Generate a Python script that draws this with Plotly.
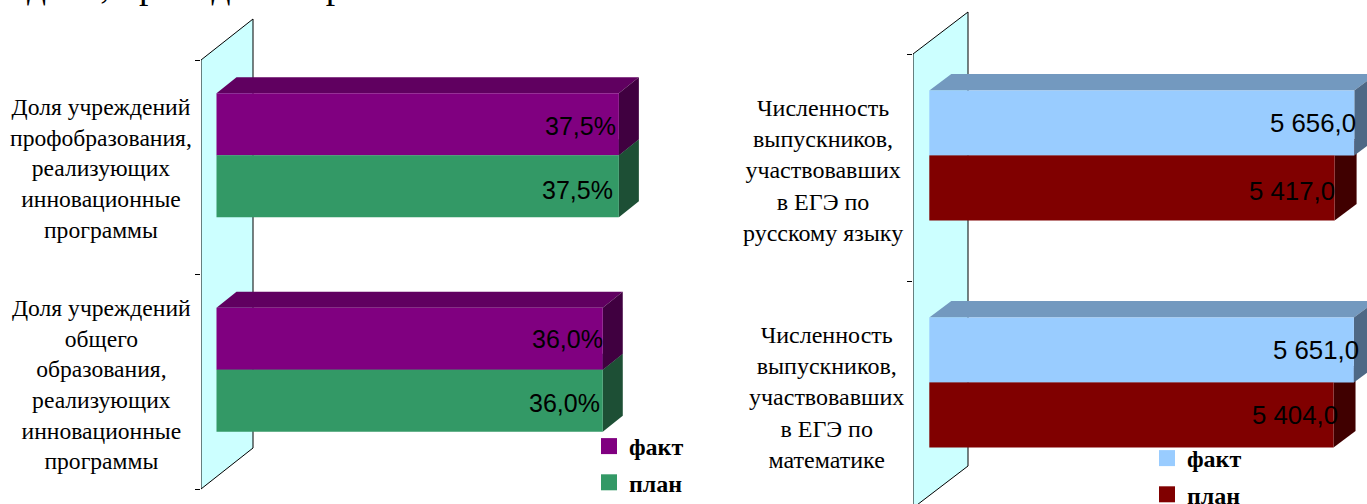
import plotly.graph_objects as go

W, H = 1367, 504

# ---------- data ----------
left_categories = [
    "Доля учреждений<br>профобразования,<br>реализующих<br>инновационные<br>программы",
    "Доля учреждений<br>общего<br>образования,<br>реализующих<br>инновационные<br>программы",
]
left_fact = [37.5, 36.0]
left_plan = [37.5, 36.0]
left_fact_labels = ["37,5%", "36,0%"]
left_plan_labels = ["37,5%", "36,0%"]

right_categories = [
    "Численность<br>выпускников,<br>участвовавших<br>в ЕГЭ по<br>русскому языку",
    "Численность<br>выпускников,<br>участвовавших<br>в ЕГЭ по<br>математике",
]
right_fact = [5656.0, 5651.0]
right_plan = [5417.0, 5404.0]
right_fact_labels = ["5 656,0", "5 651,0"]
right_plan_labels = ["5 417,0", "5 404,0"]

series_names = ["факт", "план"]
clipped_heading = "дачи, проводимые р"

# ---------- styles / geometry ----------
SERIF = "Liberation Serif"
SANS = "Liberation Sans"
PURPLE = dict(front="#800080", top="#600060", side="#400040")
GREEN = dict(front="#339966", top="#267350", side="#1D4F35")
BLUE = dict(front="#99CCFF", top="#7399BF", side="#4E6885")
RED = dict(front="#800000", top="#600000", side="#400000")
WALL = "#CCFFFF"

LEFT = dict(ax="", wall_px=201, wall_dx=52, wall_dy=41, tick0=60, band=214.5, base=0.0, base_px=216.5,
            px_per=10.73, right_px=690, bar_px=62, shift=-12, dx=20, dy=16,
            fact=left_fact, plan=left_plan, colors=(PURPLE, GREEN),
            fact_labels=left_fact_labels, plan_labels=left_plan_labels,
            fact_off=[(-3, 2), (0, 0)], plan_off=[(-6, 4), (-3, 2)], label_size=25,
            cats=left_categories, cat_pos=[(100.5, 169), (101.5, 384)], cat_size=23.6,
            legend="legend", legend_xy=(589, 424))
RIGHT = dict(ax="2", wall_px=913, wall_dx=55, wall_dy=42, tick0=54, band=227.0, base=500.0, base_px=929.3,
             px_per=425.0 / 5156.0, right_px=W, bar_px=65, shift=-12, dx=22, dy=16.5,
             fact=right_fact, plan=right_plan, colors=(BLUE, RED),
             fact_labels=right_fact_labels, plan_labels=right_plan_labels,
             fact_off=[(2, 0), (5, 0)], plan_off=[(0, 3), (4, 0)], label_size=25.8,
             cats=right_categories, cat_pos=[(823, 170.5), (827, 397)], cat_size=24,
             legend="legend2", legend_xy=(1147, 436))

fig = go.Figure()
shapes, annotations = [], []
layout_axes = {}


def poly(points, color, xref, yref, line=None):
    path = "M " + " L ".join(f"{x} {y}" for x, y in points) + " Z"
    return dict(type="path", path=path, xref=xref, yref=yref, layer="below",
                fillcolor=color, line=line or dict(width=0))


def add_chart(c):
    xref, yref = "x" + c["ax"], "y" + c["ax"]
    band, ppv, base = c["band"], c["px_per"], c["base"]
    xmin = base + (c["wall_px"] - c["base_px"]) / ppv
    xmax = base + (c["right_px"] - c["base_px"]) / ppv
    n = len(c["cats"])
    ddx, ddy = c["dx"] / ppv, c["dy"] / band
    bar_w = c["bar_px"] / band
    shift = c["shift"] / band

    # back wall: a sheared plane behind the bars
    wx1 = xmin + c["wall_dx"] / ppv
    wy = c["wall_dy"] / band
    shapes.append(poly([(xmin, -0.5), (wx1, -0.5 - wy), (wx1, n - 0.5 - wy), (xmin, n - 0.5)],
                       WALL, xref, yref, dict(color="black", width=1)))

    series = [(c["plan"], c["colors"][1], +0.5), (c["fact"], c["colors"][0], -0.5)]
    for vals, col, side_sign in series:
        for i, v in enumerate(vals):
            y0 = i + shift + (side_sign - 0.5) * bar_w
            y1 = y0 + bar_w
            shapes.append(poly([(base, y0), (base + ddx, y0 - ddy), (v + ddx, y0 - ddy), (v, y0)],
                               col["top"], xref, yref))
            shapes.append(poly([(v, y0), (v + ddx, y0 - ddy), (v + ddx, y1 - ddy), (v, y1)],
                               col["side"], xref, yref))
    for (vals, col, side_sign), name in zip(reversed(series), series_names):
        fig.add_trace(go.Bar(
            x=[v - base for v in vals], base=base,
            y=[i + shift + side_sign * bar_w for i in range(n)],
            orientation="h", width=bar_w, marker=dict(color=col["front"], line=dict(width=0)),
            xaxis=xref, yaxis=yref, name=name, showlegend=False))
    for name, col in zip(series_names, c["colors"]):
        fig.add_trace(go.Scatter(
            x=[None], y=[None], mode="markers", name=name, legendgroup=name + c["ax"],
            marker=dict(symbol="square", size=17, color=col["front"]),
            xaxis=xref, yaxis=yref, legend=c["legend"]))

    # data labels
    for vals, labels, offs, sign in ((c["fact"], c["fact_labels"], c["fact_off"], -0.5),
                                     (c["plan"], c["plan_labels"], c["plan_off"], 0.5)):
        for i, (v, t, (ox, oy)) in enumerate(zip(vals, labels, offs)):
            annotations.append(dict(
                x=v, y=i + shift + sign * bar_w, xref=xref, yref=yref, text=t, showarrow=False,
                xanchor="right", yanchor="middle", xshift=ox, yshift=-oy, borderpad=0, borderwidth=0,
                font=dict(family=SANS, size=c["label_size"], color="black")))

    # category labels
    for t, (px, py) in zip(c["cats"], c["cat_pos"]):
        annotations.append(dict(
            x=px / W, y=1 - py / H, xref="paper", yref="paper", text=t, showarrow=False,
            xanchor="center", yanchor="middle", align="center",
            font=dict(family=SERIF, size=c["cat_size"], color="black")))

    layout_axes["xaxis" + c["ax"]] = dict(
        domain=[c["wall_px"] / W, c["right_px"] / W], range=[xmin, xmax], visible=False,
        anchor=yref, fixedrange=True)
    ymin_u = (H - c["tick0"]) / band - 0.5
    ymax_u = -c["tick0"] / band - 0.5
    layout_axes["yaxis" + c["ax"]] = dict(
        domain=[0, 1], range=[ymin_u, ymax_u], anchor=xref, showticklabels=False,
        showgrid=False, zeroline=False, showline=False, ticks="outside", ticklen=5,
        tickwidth=1, tickcolor="black", tickvals=[i - 0.5 for i in range(n + 1)], fixedrange=True)
    lx, ly = c["legend_xy"]
    layout_axes[c["legend"]] = dict(
        x=lx / W, y=1 - ly / H, xanchor="left", yanchor="top", bgcolor="rgba(0,0,0,0)",
        traceorder="grouped", tracegroupgap=2,
        font=dict(family=SERIF, size=24, color="black", weight="bold"))


add_chart(LEFT)
add_chart(RIGHT)

annotations.append(dict(
    x=25 / W, y=1 - 8 / H, xref="paper", yref="paper", text=clipped_heading, showarrow=False,
    xanchor="left", yanchor="bottom", font=dict(family=SERIF, size=37.5, color="black")))

fig.update_layout(
    width=W, height=H, margin=dict(l=0, r=0, t=0, b=0, autoexpand=False), paper_bgcolor="white",
    plot_bgcolor="rgba(0,0,0,0)", barmode="overlay", showlegend=True,
    shapes=shapes, annotations=annotations, **layout_axes)

fig.write_html("out.html", config=dict(displayModeBar=False),
               post_script="document.body.style.margin='0';document.body.style.overflow='hidden';")
